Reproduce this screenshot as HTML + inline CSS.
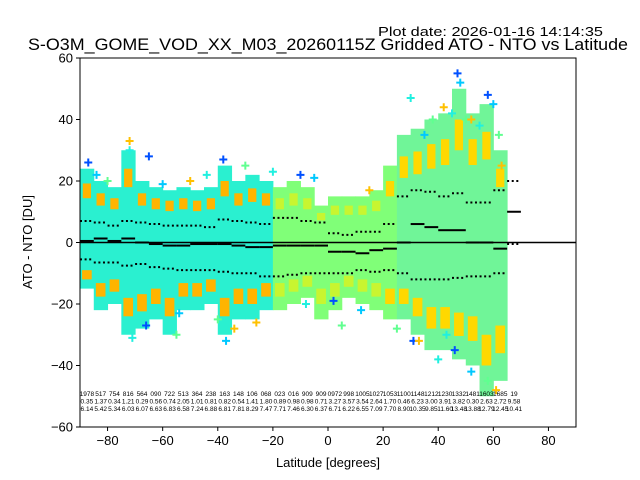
<!DOCTYPE html>
<html><head><meta charset="utf-8"><style>
body{margin:0;background:#fff;}
svg{display:block;font-family:"Liberation Sans","DejaVu Sans",sans-serif;}
</style></head><body>
<svg id="chart" width="640" height="480">
<text x="378" y="36" font-size="13" textLength="225" lengthAdjust="spacingAndGlyphs">Plot date: 2026-01-16 14:14:35</text>
<text x="28" y="50" font-size="16.5" textLength="600" lengthAdjust="spacingAndGlyphs">S-O3M_GOME_VOD_XX_M03_20260115Z Gridded ATO - NTO vs Latitude</text>
<text x="328" y="467" font-size="13" text-anchor="middle">Latitude [degrees]</text>
<text x="32" y="242" font-size="13" text-anchor="middle" transform="rotate(-90 32 242)">ATO - NTO [DU]</text>
<g id="plot"></g>
</svg>
<script>
const binLat=[-87.5,-82.5,-77.5,-72.5,-67.5,-62.5,-57.5,-52.5,-47.5,-42.5,-37.5,-32.5,-27.5,-22.5,-17.5,-12.5,-7.5,-2.5,2.5,7.5,12.5,17.5,22.5,27.5,32.5,37.5,42.5,47.5,52.5,57.5,62.5,67.5];
const binMax=[24,20,18,30,20,18,17,18,17,18,25,20,22,20,18,20,18,12,15,15,15,17,25,35,37,40,42,50,42,45,30,null];
const binMin=[-15,-22,-20,-30,-28,-25,-30,-22,-22,-20,-30,-25,-25,-22,-22,-20,-18,-25,-22,-18,-20,-22,-25,-25,-30,-35,-35,-38,-40,-50,-45,null];
const binMean=[0.5,1.3,0.5,1.3,0,-0.5,-1,-1,-0.5,-0.5,-0.5,-1,-1.5,-1.5,-1,-1,-1,-1,-3,-3,-3.5,-2.5,-2,0,6,5,4,4,0,0,-2,10];
const binUp=[7,6.5,5.5,7,6.5,6,5.5,5.5,5.5,5,7.5,7,6.5,6,8,8,7,6.5,3,2.5,3.5,3.5,6,15,17,16.5,15,16,13,13,17,20];
const binLo=[-5.5,-6.5,-6.5,-7.5,-7,-8,-8.5,-9,-9,-9,-9.5,-10,-10,-11,-11,-10.5,-10,-10,-10,-10,-9,-9.5,-9,-10,-12,-12,-12,-11.5,-11,-11,-10,-0.5];
const row1=["1978","517","754","816","564","090","722","513","364","238","163","148","106","068","023","016","909","909","0972","998","1005","1027","1053","1100","1148","1212","1230","1332","1481","1603","1685","19"];
const row2=["0.35","1.37","0.34","1.21","0.29","0.56","0.74","2.05","1.01","0.81","0.82","0.54","1.41","1.80","0.89","0.98","0.98","0.71","3.27","3.57","3.54","2.64","1.70","0.46","6.23","3.00","3.91","3.82","0.30","2.63","2.72","9.58"];
const row3=["6.14","5.42","5.34","6.03","6.07","6.63","6.83","6.58","7.24","6.88","6.81","7.81","8.29","7.47","7.71","7.46","6.30","6.37","6.71","6.22","6.55","7.09","7.70","8.90","10.35","9.85","11.60","13.48","13.88","12.79","12.45","10.41"];
const outLat=[-87,-84,-80,-72,-71,-66,-60,-55,-50,-44,-38,-37,-30,-26,-20,-10,-5,5,15,30,31,35,38,42,45,47,48,50,52,55,58,60,62,63,-72,-65,-54,-40,-34,-8,2,12,25,33,40,46,52,58,61,43];
const outVal=[26,22,20,33,-31,-27,19,-30,20,22,27,-32,25,-26,23,22,21,-27,17,47,-32,35,40,44,42,55,52,40,40,38,48,45,35,25,30,28,-23,-25,-28,-20,-19,-22,-28,-32,-38,-35,-42,-45,-48,-30];
const xTicks=[-80,-60,-40,-20,0,20,40,60,80];
const yTicks=[-60,-40,-20,0,20,40,60];

const L=80,R=576,T=58,B=427;
const xS=v=>L+(v+90)*(R-L)/180;
const yS=v=>T+(60-v)*(B-T)/120;
const NS="http://www.w3.org/2000/svg";
const g=document.getElementById('plot');
function mk(tag,attrs,parent){const e=document.createElementNS(NS,tag);for(const k in attrs)e.setAttribute(k,attrs[k]);(parent||g).appendChild(e);return e;}
function coreColor(lat){return lat<-20?'#2af0d0':(lat<25?'#80ff78':'#70f598');}
function patchColor(lat){return lat<-20?'#ffb400':(lat<20?'#c8f530':'#ffd800');}
const clip=mk('clipPath',{id:'pc'});mk('rect',{x:L,y:T,width:R-L,height:B-T},clip);
const sc=mk('g',{'clip-path':'url(#pc)'});
binLat.forEach((lat,i)=>{
  if(binMax[i]===null)return;
  const x0=xS(lat-2.5),w=xS(lat+2.5)-x0;
  const r1=mk('rect',{x:x0,y:yS(binMax[i]),width:w+0.5,height:yS(binMin[i])-yS(binMax[i]),fill:coreColor(lat)},sc);
  
  
  const a=mk('rect',{x:x0+w*0.15,y:yS(binMin[i]*0.6),width:w*0.7,height:yS(binMin[i]*0.8)-yS(binMin[i]*0.6),fill:patchColor(lat)},sc);
  
  
  const b=mk('rect',{x:x0+w*0.2,y:yS(binMax[i]*0.8),width:w*0.6,height:yS(binMax[i]*0.6)-yS(binMax[i]*0.8),fill:patchColor(lat)},sc);
  
  
});
outLat.forEach((lat,i)=>{
  const cx=xS(lat),cy=yS(outVal[i]);
  const col=['#0050ff','#00c8ff','#60ff90','#ffc000','#20f0e0'][i%5];
  const p=mk('path',{d:`M${cx-4} ${cy}H${cx+4}M${cx} ${cy-4}V${cy+4}`,stroke:col,'stroke-width':2},sc);
  
  
});
const z=mk('line',{x1:L,x2:R,y1:yS(0),y2:yS(0),stroke:'#000','stroke-width':1.5});


binLat.forEach((lat,i)=>{
  const x0=xS(lat-2.5),x1=xS(lat+2.5);
  const m=mk('line',{x1:x0,x2:x1,y1:yS(binMean[i]),y2:yS(binMean[i]),stroke:'#000','stroke-width':2});
  
  
  [binUp[i],binLo[i]].forEach(v=>{
    const s=mk('line',{x1:x0,x2:x1,y1:yS(v),y2:yS(v),stroke:'#000','stroke-width':2,'stroke-dasharray':'2,2.6'});
    
    
  });
  [row1,row2,row3].forEach((row,k)=>{
    const t=mk('text',{x:xS(lat),y:396+k*7.5,'font-size':6.5,'text-anchor':'middle'});
    t.textContent=row[i];
    
    
  });
});
const fr=mk('rect',{x:L,y:T,width:R-L,height:B-T,fill:'none',stroke:'#000','stroke-width':1});


xTicks.forEach(v=>{
  mk('line',{x1:xS(v),x2:xS(v),y1:B,y2:B+4,stroke:'#000'});
  const t=mk('text',{x:xS(v),y:B+18,'font-size':13,'text-anchor':'middle'});
  t.textContent=v<0?'\u2212'+(-v):v;
  
  
});
yTicks.forEach(v=>{
  mk('line',{x1:L-4,x2:L,y1:yS(v),y2:yS(v),stroke:'#000'});
  const t=mk('text',{x:L-7,y:yS(v)+4.5,'font-size':13,'text-anchor':'end'});
  t.textContent=v<0?'\u2212'+(-v):v;
  
  
});
</script>
</body></html>
